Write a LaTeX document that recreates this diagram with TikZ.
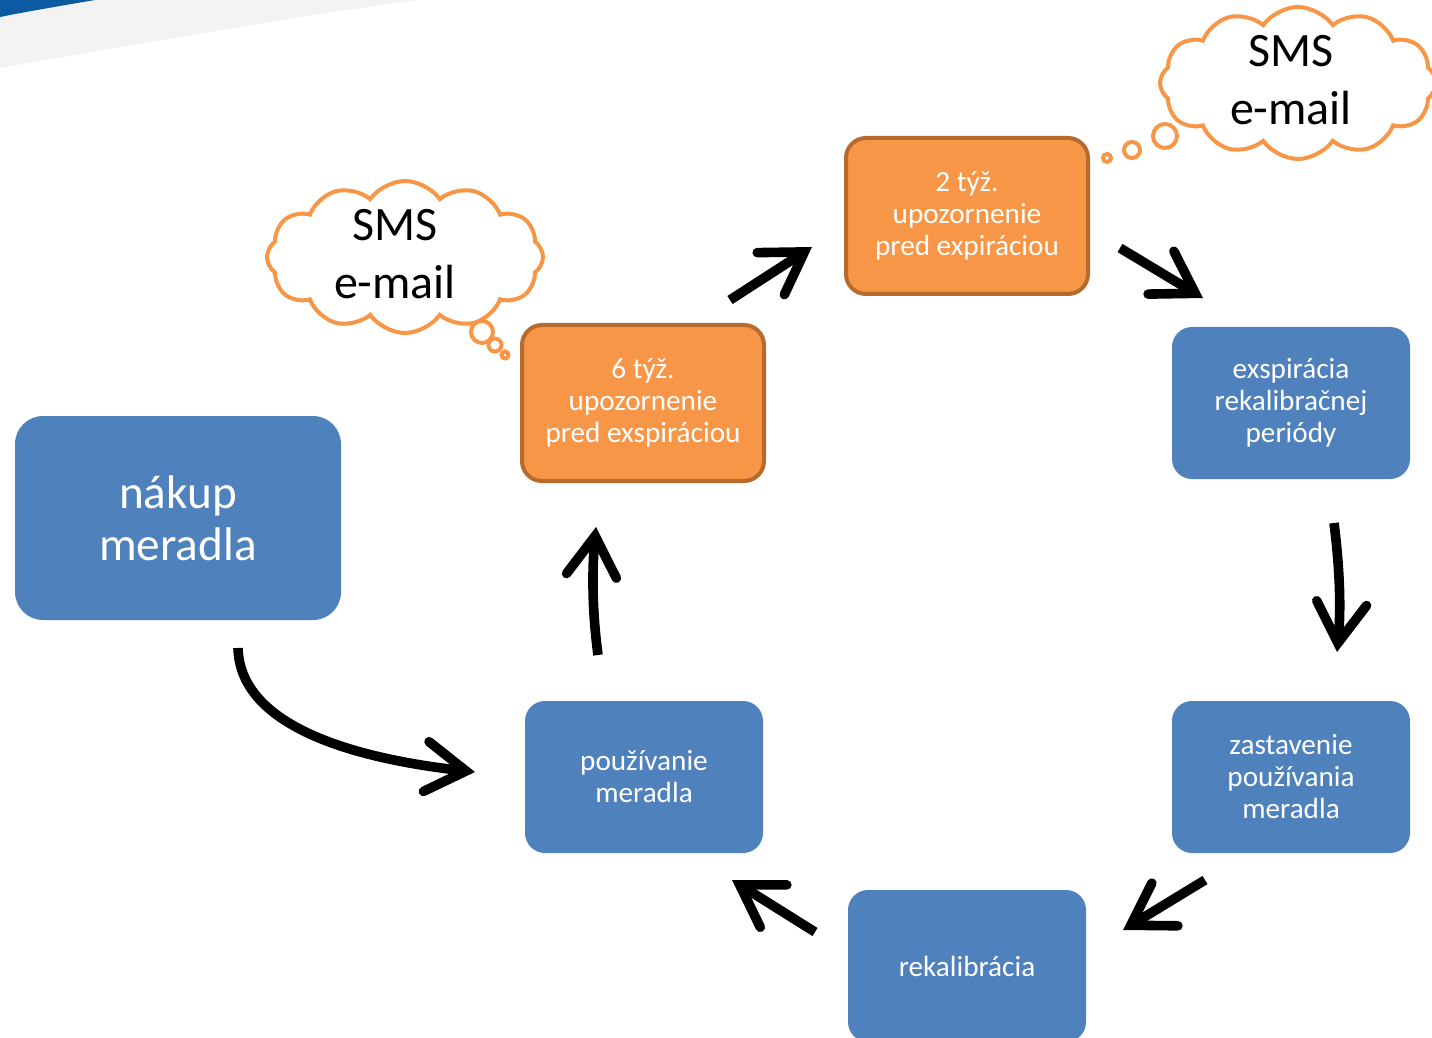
\documentclass[tikz,border=0pt]{standalone}
\usepackage{fontspec}
\setmainfont{Carlito}
\usetikzlibrary{arrows.meta,shapes.symbols}
\definecolor{boxblue}{HTML}{4F81BD}
\definecolor{boxorange}{HTML}{F79646}
\definecolor{orangeedge}{HTML}{B66A2E}
\definecolor{swoosh}{HTML}{0B5AA2}
\definecolor{swooshgray}{HTML}{F3F3F3}
\begin{document}
\begin{tikzpicture}[x=0.5pt,y=-0.5pt,
 bluebox/.style={fill=boxblue, rounded corners=10pt, minimum width=119pt, minimum height=76pt, text=white, align=center, font=\fontsize{14.6}{16}\selectfont, inner sep=0pt},
 orangebox/.style={fill=boxorange, draw=orangeedge, line width=2pt, rounded corners=10pt, minimum width=121pt, minimum height=78pt, text=white, align=center, font=\fontsize{14.6}{16}\selectfont, inner sep=0pt},
 flow/.style={line width=4.8pt, -{Straight Barb[length=20pt,width=25pt,line cap=round,line join=miter]}},
 thought/.style={cloud, cloud puffs=12, cloud puff arc=110, cloud ignores aspect, draw=boxorange, line width=2pt, fill=white, minimum width=138pt, minimum height=76pt, inner sep=0pt},
 cloudtext/.style={align=center, font=\fontsize{24}{29}\selectfont, inner sep=0pt},
 bubble/.style={circle, draw=boxorange, line width=2pt, fill=white, inner sep=0pt}]
\useasboundingbox (0,0) rectangle (1432,1038);
\clip (0,0) rectangle (1432,1038);
% swoosh
\fill[swooshgray] (0,17) -- (0,68) .. controls (150,42) and (300,15) .. (420,0) -- (95,0) .. controls (60,6) and (30,11) .. (0,17) -- cycle;
\fill[swoosh] (0,0) -- (95,0) .. controls (60,6) and (30,11) .. (0,17) -- cycle;
% boxes
\node[bluebox, rounded corners=14pt, minimum width=163pt, minimum height=102pt, font=\fontsize{23.6}{26}\selectfont] (buy) at (178,518) {nákup\\meradla};
\node[orangebox] (w6) at (643,403) {6 týž.\\upozornenie\\pred exspiráciou};
\node[orangebox] (w2) at (967,216) {2 týž.\\upozornenie\\pred expiráciou};
\node[bluebox] (exp) at (1291,403) {exspirácia\\rekalibračnej\\periódy};
\node[bluebox] (stop) at (1291,777) {zastavenie\\používania\\meradla};
\node[bluebox] (rek) at (967,966) {rekalibrácia};
\node[bluebox] (use) at (644,777) {používanie\\meradla};
% clouds
\node[thought] (c1) at (405,257) {};
\node[cloudtext] (c1t) at (395,254) {SMS\\e-mail};
\node[bubble, minimum size=11pt] (b11) at (482,332) {};
\node[bubble, minimum size=6.5pt] (b12) at (495,345) {};
\node[bubble, minimum size=3.5pt] (b13) at (505,355) {};
\node[thought] (c2) at (1298,83) {};
\node[cloudtext] (c2t) at (1291,80) {SMS\\e-mail};
\node[bubble, minimum size=12pt] (b21) at (1165,136) {};
\node[bubble, minimum size=8pt] (b22) at (1132,150) {};
\node[bubble, minimum size=4pt] (b23) at (1107,158) {};
% arrow end points
\coordinate (a1s) at (238,648);
\coordinate (a1e) at (475,772);
\coordinate (a2s) at (598,655);
\coordinate (a2e) at (596,527);
\coordinate (a3s) at (730,300);
\coordinate (a3e) at (812,247);
\coordinate (a4s) at (1120,248);
\coordinate (a4e) at (1203,298);
\coordinate (a5s) at (1334,523);
\coordinate (a5e) at (1337,652);
\coordinate (a6s) at (1205,880);
\coordinate (a6e) at (1123,930);
\coordinate (a7s) at (815,932);
\coordinate (a7e) at (732,880);
\draw[flow] (a1s) .. controls (240,725) and (350,758) .. (a1e);
\draw[flow] (a2s) .. controls (592,610) and (592,570) .. (a2e);
\draw[flow] (a3s) -- (a3e);
\draw[flow] (a4s) -- (a4e);
\draw[flow] (a5s) .. controls (1340,570) and (1341,610) .. (a5e);
\draw[flow] (a6s) -- (a6e);
\draw[flow] (a7s) -- (a7e);
\end{tikzpicture}
\end{document}
